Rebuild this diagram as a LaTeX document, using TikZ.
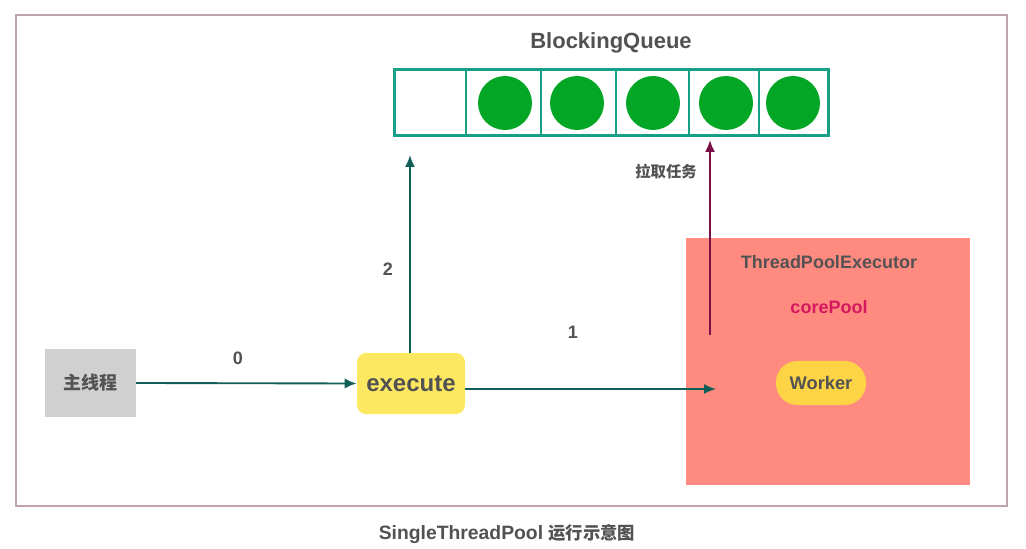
\documentclass[tikz,border=0pt]{standalone}
\usepackage{fontspec}
\setmainfont{Liberation Sans}
\newfontfamily\cjk{Noto Sans CJK SC}
\usetikzlibrary{arrows.meta}
\definecolor{frame}{HTML}{C2A3AD}
\definecolor{qline}{HTML}{17A086}
\definecolor{ball}{HTML}{03A625}
\definecolor{txt}{HTML}{525252}
\definecolor{arr}{HTML}{0F5E58}
\definecolor{pull}{HTML}{7A0E46}
\definecolor{poolred}{HTML}{FF8A80}
\definecolor{execy}{HTML}{FDE961}
\definecolor{worky}{HTML}{FDD445}
\definecolor{mainbox}{HTML}{D0D0D0}
\definecolor{coreclr}{HTML}{D6185F}
\tikzset{
  lbl/.style={text=txt, font=\bfseries, inner sep=0pt},
  conn/.style={draw=arr, line width=1.4pt, -{Latex[length=9pt,width=7.5pt]}},
  ball/.style={circle, fill=ball, minimum size=40.5pt, inner sep=0pt},
}
\begin{document}
\begin{tikzpicture}[x=0.75pt,y=-0.75pt]
\useasboundingbox (0,0) rectangle (1026,549);
\fill[white] (0,0) rectangle (1026,549);
% frame
\draw[frame, line width=1pt] (16,15) rectangle (1007,506);
% title
\node[lbl, font=\bfseries\fontsize{16.5}{18}\selectfont] (qtitle) at (611,43) {BlockingQueue};
% queue
\node[draw=qline, line width=2.2pt, minimum width=326pt, minimum height=50pt, inner sep=0pt] (queue) at (611.5,102.5) {};
\foreach \xx in {466,541,616,689,759} \draw[qline, line width=2.2pt] (\xx,69) -- (\xx,136);
\node[ball] (b1) at (505,103) {};
\node[ball] (b2) at (577,103) {};
\node[ball] (b3) at (653,103) {};
\node[ball] (b4) at (726,103) {};
\node[ball] (b5) at (793,103) {};
% pool box
\node[fill=poolred, minimum width=213pt, minimum height=185pt, inner sep=0pt] (pool) at (828,361.5) {};
\node[lbl, font=\bfseries\fontsize{13.5}{15}\selectfont] (tpe) at (829,262) {ThreadPoolExecutor};
\node[lbl, text=coreclr, font=\bfseries\fontsize{13.5}{15}\selectfont] (core) at (829,307) {corePool};
\node[fill=worky, rounded corners=16pt, minimum width=67.5pt, minimum height=33pt, inner sep=0pt, text=txt, font=\bfseries\fontsize{13.7}{15}\selectfont] (worker) at (821,383) {Worker};
% main thread
\node[fill=mainbox, minimum width=68pt, minimum height=51pt, inner sep=0pt, text=txt, font=\cjk\bfseries\fontsize{13.5}{15}\selectfont] (main) at (90.5,383) {主线程};
% execute
\node[fill=execy, rounded corners=7pt, minimum width=81pt, minimum height=46pt, inner sep=0pt, text=txt, font=\bfseries\fontsize{18}{20}\selectfont] (exec) at (411,383.5) {execute};
% connectors
\draw[conn] (main.east) -- (exec.west);
\node[lbl, font=\bfseries\fontsize{13.5}{15}\selectfont] (l0) at (238,358) {0};
\coordinate (q2) at (410,155);
\draw[conn] (exec.north -| q2) -- (q2);
\node[lbl, font=\bfseries\fontsize{13.5}{15}\selectfont] (l2) at (388,269) {2};
\coordinate (a1) at (716,389);
\draw[conn] (exec.east |- a1) -- (a1);
\node[lbl, font=\bfseries\fontsize{13.5}{15}\selectfont] (l1) at (573,332) {1};
\coordinate (ps) at (710,335);
\coordinate (pe) at (710,140);
\draw[conn, draw=pull] (ps) -- (pe);
\node[lbl, font=\cjk\bfseries\fontsize{11.5}{13}\selectfont] (lpull) at (666,172) {拉取任务};
% caption
\node[lbl, font=\bfseries\fontsize{14.5}{16}\selectfont] (cap) at (507,534) {SingleThreadPool {\cjk\fontsize{13}{16}\selectfont 运行示意图}};
\end{tikzpicture}
\end{document}
